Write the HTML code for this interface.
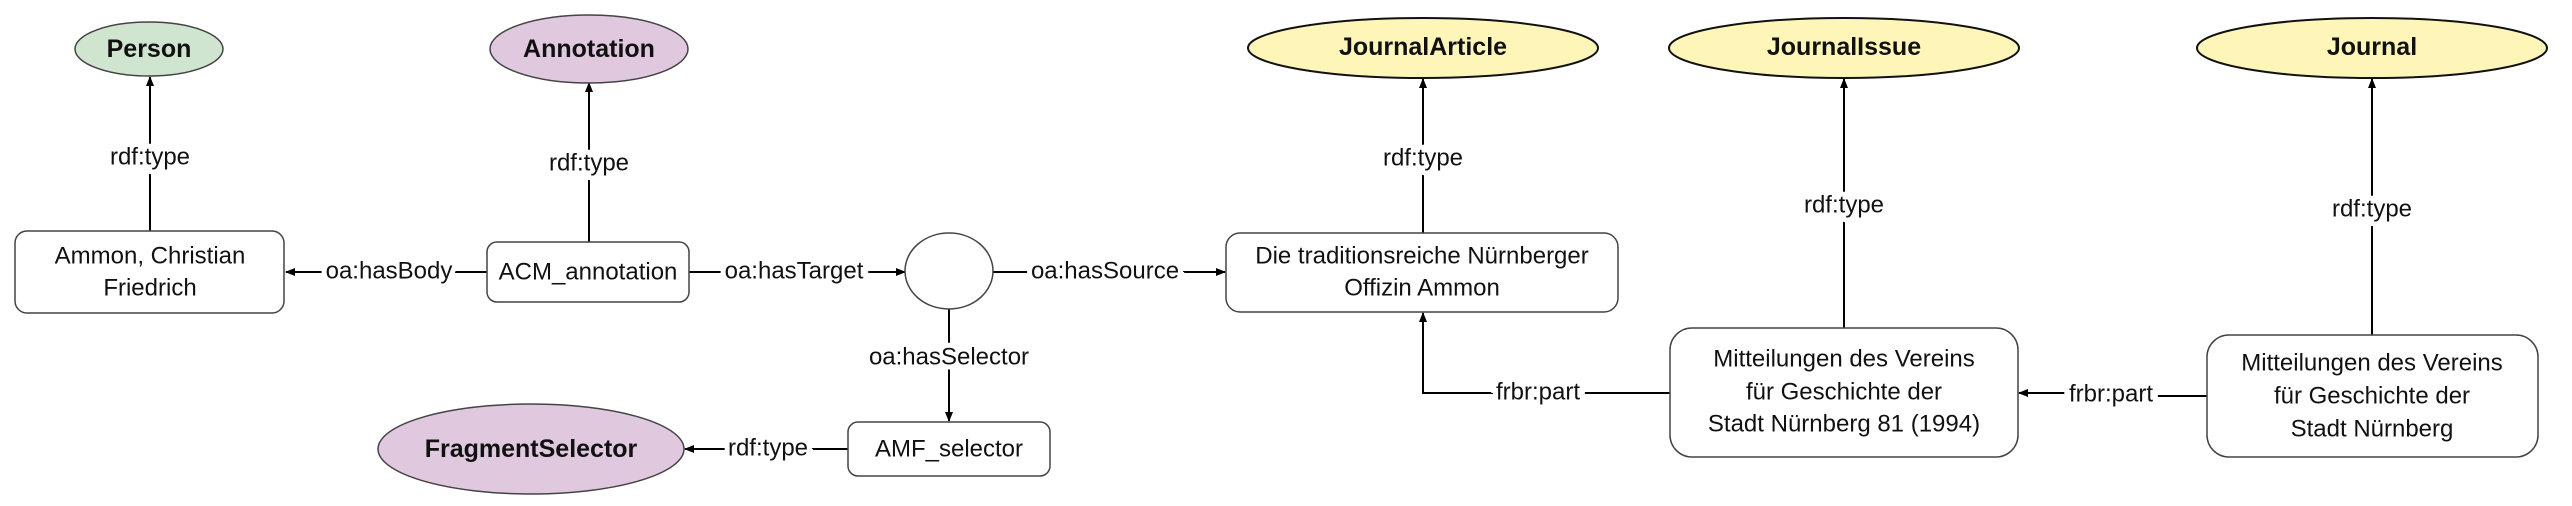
<!DOCTYPE html>
<html><head><meta charset="utf-8"><style>
html,body{margin:0;padding:0;background:#fff;width:2572px;height:506px;overflow:hidden}
text{font-family:"Liberation Sans",sans-serif;font-size:24px;fill:#111;text-anchor:middle;dominant-baseline:central}
.b{font-weight:bold;font-size:25px}
.l{stroke:#fff;stroke-width:10px;paint-order:stroke}
</style></head><body>
<svg width="2572" height="506" xmlns="http://www.w3.org/2000/svg">
<defs><marker id="a" markerWidth="10" markerHeight="10" refX="9" refY="5" orient="auto" markerUnits="userSpaceOnUse"><path d="M0,1 L10,5 L0,9 z" fill="#000"/></marker></defs>
<g stroke="#000" stroke-width="2" fill="none">
<line x1="150" y1="231" x2="150" y2="77" marker-end="url(#a)"/>
<line x1="589" y1="242" x2="589" y2="83" marker-end="url(#a)"/>
<line x1="487" y1="272" x2="286" y2="272" marker-end="url(#a)"/>
<line x1="689" y1="272" x2="905" y2="272" marker-end="url(#a)"/>
<line x1="993" y1="272" x2="1225" y2="272" marker-end="url(#a)"/>
<line x1="949" y1="309" x2="949" y2="421" marker-end="url(#a)"/>
<line x1="848" y1="449" x2="685" y2="449" marker-end="url(#a)"/>
<line x1="1423" y1="233" x2="1423" y2="79" marker-end="url(#a)"/>
<line x1="1844" y1="328" x2="1844" y2="79" marker-end="url(#a)"/>
<line x1="2372" y1="335" x2="2372" y2="79" marker-end="url(#a)"/>
<polyline points="1670,393 1423,393 1423,313" marker-end="url(#a)"/>
<polyline points="2207,396 2110,396 2110,393 2019,393" marker-end="url(#a)"/>
</g>
<g stroke="#444" stroke-width="1.5">
<ellipse cx="149" cy="49" rx="74" ry="27" fill="#cfe5cf"/>
<ellipse cx="589" cy="49" rx="99" ry="34" fill="#e0c8df"/>
<ellipse cx="531" cy="449" rx="153" ry="45" fill="#e0c8df"/>
<ellipse cx="1423" cy="48" rx="175" ry="30" fill="#fdf6b8" stroke="#111" stroke-width="2"/>
<ellipse cx="1844" cy="48" rx="175" ry="30" fill="#fdf6b8" stroke="#111" stroke-width="2"/>
<ellipse cx="2372" cy="48" rx="175" ry="30" fill="#fdf6b8" stroke="#111" stroke-width="2"/>
<ellipse cx="949" cy="271" rx="44" ry="38" fill="#fff"/>
<rect x="15" y="231" width="269" height="82" rx="12" fill="#fff"/>
<rect x="487" y="242" width="202" height="60" rx="10" fill="#fff"/>
<rect x="848" y="422" width="202" height="54" rx="10" fill="#fff"/>
<rect x="1226" y="233" width="392" height="79" rx="14" fill="#fff"/>
<rect x="1670" y="328" width="348" height="129" rx="22" fill="#fff"/>
<rect x="2207" y="335" width="331" height="122" rx="22" fill="#fff"/>
</g>
<text class="b" x="149" y="49">Person</text>
<text class="b" x="589" y="49">Annotation</text>
<text class="b" x="531" y="449">FragmentSelector</text>
<text class="b" x="1423" y="47">JournalArticle</text>
<text class="b" x="1844" y="47">JournalIssue</text>
<text class="b" x="2372" y="47">Journal</text>
<text x="150" y="256">Ammon, Christian</text>
<text x="150" y="288">Friedrich</text>
<text x="588" y="272">ACM_annotation</text>
<text x="949" y="449">AMF_selector</text>
<text x="1422" y="256">Die traditionsreiche Nürnberger</text>
<text x="1422" y="288">Offizin Ammon</text>
<text x="1844" y="359">Mitteilungen des Vereins</text>
<text x="1844" y="392">für Geschichte der</text>
<text x="1844" y="424">Stadt Nürnberg 81 (1994)</text>
<text x="2372" y="363">Mitteilungen des Vereins</text>
<text x="2372" y="396">für Geschichte der</text>
<text x="2372" y="429">Stadt Nürnberg</text>
<text class="l" x="150" y="157">rdf:type</text>
<text class="l" x="589" y="163">rdf:type</text>
<text class="l" x="1423" y="158">rdf:type</text>
<text class="l" x="1844" y="205">rdf:type</text>
<text class="l" x="2372" y="209">rdf:type</text>
<text class="l" x="389" y="271">oa:hasBody</text>
<text class="l" x="794" y="271">oa:hasTarget</text>
<text class="l" x="1105" y="271">oa:hasSource</text>
<text class="l" x="949" y="357">oa:hasSelector</text>
<text class="l" x="768" y="448">rdf:type</text>
<text class="l" x="1538" y="392">frbr:part</text>
<text class="l" x="2111" y="394">frbr:part</text>
</svg>
</body></html>
